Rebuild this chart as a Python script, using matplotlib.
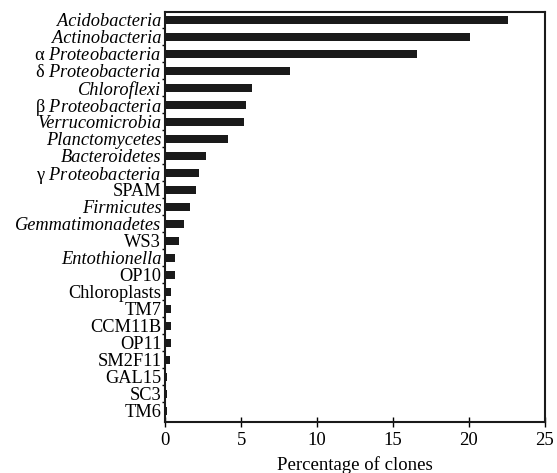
import matplotlib
matplotlib.use("Agg")
import matplotlib.pyplot as plt
import numpy as np

plt.rcParams['font.family'] = ['Liberation Serif', 'DejaVu Serif']
plt.rcParams['mathtext.fontset'] = 'custom'
plt.rcParams['mathtext.rm'] = 'Liberation Serif'
plt.rcParams['mathtext.it'] = 'Liberation Serif:italic'

# grupos taxonomicos y porcentaje de clones
grupos = ['Acidobacteria', 'Actinobacteria', 'α $\\mathit{Proteobacteria}$',
          'δ $\\mathit{Proteobacteria}$', 'Chloroflexi', 'β $\\mathit{Proteobacteria}$',
          'Verrucomicrobia', 'Planctomycetes', 'Bacteroidetes', 'γ $\\mathit{Proteobacteria}$',
          'SPAM', 'Firmicutes', 'Gemmatimonadetes', 'WS3', 'Entothionella', 'OP10',
          'Chloroplasts', 'TM7', 'CCM11B', 'OP11', 'SM2F11', 'GAL15', 'SC3', 'TM6']
porcentaje = [22.6, 20.1, 16.6, 8.2, 5.7, 5.3, 5.2, 4.1, 2.7, 2.2,
              2.0, 1.6, 1.2, 0.9, 0.6, 0.6, 0.4, 0.4, 0.35, 0.35,
              0.28, 0.1, 0.1, 0.1]
cursiva = ['Acidobacteria', 'Actinobacteria', 'Chloroflexi', 'Verrucomicrobia',
           'Planctomycetes', 'Bacteroidetes', 'Firmicutes', 'Gemmatimonadetes',
           'Entothionella']

fig = plt.figure(figsize=(5.57, 4.73), dpi=100)
ax = fig.add_axes([0.297, 0.108, 0.681, 0.867])

y = np.arange(len(grupos))
ax.barh(y, porcentaje, height=0.5, color='#1a1a1a')

ax.set_xlim(0, 25)
ax.set_ylim(len(grupos) - 0.35, -0.47)
ax.set_xticks([0, 5, 10, 15, 20, 25])
ax.set_yticks(y)
ax.set_yticklabels(grupos)
for lab in ax.get_yticklabels():
    if lab.get_text() in cursiva:
        lab.set_fontstyle('italic')
ax.set_yticks(y[:-1] + 0.5, minor=True)

ax.tick_params(axis='y', which='major', length=0, pad=3, labelsize=13.2)
ax.tick_params(axis='y', which='minor', length=2, width=1)
ax.tick_params(axis='x', direction='inout', length=7, width=1, labelsize=13.5, pad=4)
for s in ax.spines.values():
    s.set_linewidth(1.5)
    s.set_color('#1a1a1a')

ax.set_xlabel('Percentage of clones', fontsize=13.5, labelpad=5)

fig.savefig('out.png', dpi=100)
